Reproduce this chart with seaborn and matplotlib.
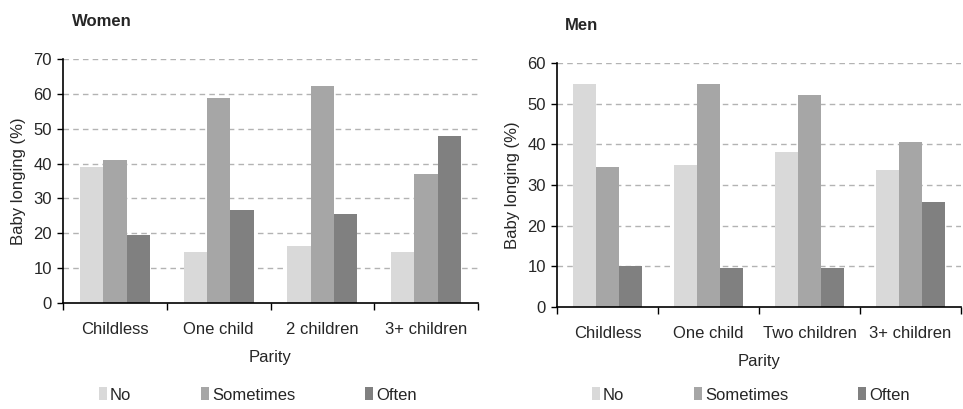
import matplotlib
matplotlib.use("Agg")
import matplotlib.pyplot as plt
import seaborn as sns
import pandas as pd

responses = ["No", "Sometimes", "Often"]
colors = ["#d9d9d9", "#a6a6a6", "#808080"]

women_categories = ["Childless", "One child", "2 children", "3+ children"]
women_no = [39.1, 14.7, 16.4, 14.7]
women_sometimes = [41.0, 58.7, 62.2, 37.0]
women_often = [19.4, 26.7, 25.6, 47.9]

men_categories = ["Childless", "One child", "Two children", "3+ children"]
men_no = [54.8, 35.0, 38.0, 33.6]
men_sometimes = [34.5, 54.8, 52.2, 40.6]
men_often = [10.2, 9.7, 9.7, 25.7]

women_yticks = [0, 10, 20, 30, 40, 50, 60, 70]
men_yticks = [0, 10, 20, 30, 40, 50, 60]


def long_df(cats, no, some, often):
    rows = []
    for series, vals in zip(responses, [no, some, often]):
        for c, v in zip(cats, vals):
            rows.append({"Parity": c, "Response": series, "value": v})
    return pd.DataFrame(rows)


sns.set_style("white")
plt.rcParams["font.family"] = ["Liberation Sans", "DejaVu Sans"]
plt.rcParams["font.size"] = 12

W, H = 963, 409
fig = plt.figure(figsize=(W / 100, H / 100), dpi=100)


def px_axes(left, top, right, bottom):
    return fig.add_axes([left / W, 1 - bottom / H, (right - left) / W, (bottom - top) / H])


ax1 = px_axes(63, 59, 478, 303)
ax2 = px_axes(557, 63, 961, 307)

panels = [
    (ax1, women_categories, women_no, women_sometimes, women_often, women_yticks, "Women", (72, 21), (258, 395)),
    (ax2, men_categories, men_no, men_sometimes, men_often, men_yticks, "Men", (565, 25), (751, 395)),
]

for ax, cats, no, some, often, yt, title, tpos, lpos in panels:
    df = long_df(cats, no, some, often)
    sns.barplot(data=df, x="Parity", y="value", hue="Response", hue_order=responses,
                order=cats, palette=colors, width=0.675, ax=ax, saturation=1,
                edgecolor="none", linewidth=0)
    handles, labels = ax.get_legend_handles_labels()
    if ax.get_legend() is not None:
        ax.get_legend().remove()
    ax.set_xlim(-0.5, len(cats) - 0.5)
    ax.set_ylim(yt[0], yt[-1])
    ax.set_yticks(yt)
    ax.set_yticklabels([str(v) for v in yt], fontsize=12)
    # x ticks at boundaries, labels at centers
    ax.set_xticks([i - 0.5 for i in range(len(cats) + 1)])
    ax.set_xticklabels([])
    ax.set_xticks(range(len(cats)), minor=True)
    ax.set_xticklabels(cats, minor=True, fontsize=12)
    ax.tick_params(axis="x", which="major", direction="out", length=5, width=1, color="black", bottom=True)
    ax.tick_params(axis="x", which="minor", length=0, pad=14)
    ax.tick_params(axis="y", direction="out", length=4, width=1, color="black", left=True, pad=4)
    for y in yt[1:]:
        ax.axhline(y, color="#b3b3b3", linestyle=(0, (4, 3)), linewidth=1, zorder=0)
    ax.set_axisbelow(True)
    for s in ["top", "right"]:
        ax.spines[s].set_visible(False)
    for s in ["left", "bottom"]:
        ax.spines[s].set_color("black")
        ax.spines[s].set_linewidth(1.2)
    ax.set_xlabel("Parity", fontsize=12, labelpad=9)
    ax.set_ylabel("Baby longing (%)", fontsize=12, labelpad=5)
    fig.text(tpos[0] / W, 1 - tpos[1] / H, title, fontsize=12, fontweight="bold",
             ha="left", va="center")
    fig.legend(handles, labels, loc="center", bbox_to_anchor=(lpos[0] / W, 1 - lpos[1] / H),
               ncol=3, frameon=False, fontsize=12, handlelength=0.45, handleheight=0.8,
               handletextpad=0.2, columnspacing=4.2)

fig.savefig("out.png", dpi=100)
